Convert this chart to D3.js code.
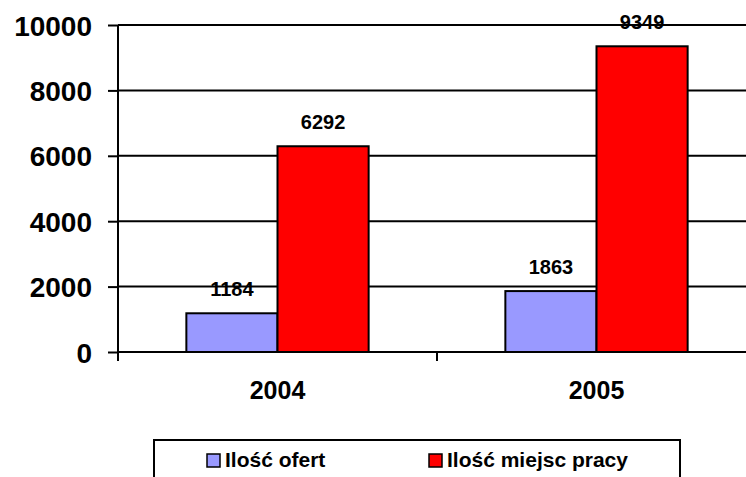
<!DOCTYPE html>
<html lang="pl">
<head>
<meta charset="utf-8">
<script src="https://d3js.org/d3.v7.min.js"></script>
<style>
  body { margin: 0; background: #fff; }
  text { font-family: Arial, "Liberation Sans", sans-serif; font-weight: bold; fill: #000; }
</style>
</head>
<body>
<div id="chart"></div>
<script>
// data
var years = ["2004", "2005"];
var seriesNames = ["Ilość ofert", "Ilość miejsc pracy"];
var seriesColors = ["#9999ff", "#ff0000"];
var ofert = [1184, 1863];
var miejsc = [6292, 9349];
var yTicks = [0, 2000, 4000, 6000, 8000, 10000];

var W = 746, H = 477;
var plot = {left: 118, top: 25, right: 756, bottom: 352};

var svg = d3.select("#chart").append("svg")
  .attr("width", W).attr("height", H);

var y = d3.scaleLinear().domain([0, 10000]).range([plot.bottom, plot.top]);

var x0 = d3.scaleBand().domain(years).range([plot.left, plot.right]);
var x1 = d3.scaleBand().domain(seriesNames)
  .range([0, x0.bandwidth()]).paddingOuter(0.75).paddingInner(0);

// gridlines
svg.append("g").selectAll("line")
  .data(yTicks.filter(function(d) { return d > 0; }))
  .enter().append("line")
    .attr("x1", plot.left).attr("x2", W)
    .attr("y1", function(d) { return y(d); })
    .attr("y2", function(d) { return y(d); })
    .attr("stroke", "#000").attr("stroke-width", 2);

// bars
var rows = years.map(function(yr, i) {
  return {year: yr, vals: [ofert[i], miejsc[i]]};
});

var groups = svg.selectAll(".grp").data(rows).enter().append("g")
  .attr("transform", function(d) { return "translate(" + x0(d.year) + ",0)"; });

groups.selectAll("rect")
  .data(function(d) { return d.vals.map(function(v, j) { return {name: seriesNames[j], v: v, j: j}; }); })
  .enter().append("rect")
    .attr("x", function(d) { return x1(d.name); })
    .attr("y", function(d) { return y(d.v); })
    .attr("width", x1.bandwidth())
    .attr("height", function(d) { return y(0) - y(d.v); })
    .attr("fill", function(d) { return seriesColors[d.j]; })
    .attr("stroke", "#000").attr("stroke-width", 2);

groups.selectAll(".lbl")
  .data(function(d) { return d.vals.map(function(v, j) { return {name: seriesNames[j], v: v}; }); })
  .enter().append("text")
    .attr("x", function(d) { return x1(d.name) + x1.bandwidth() / 2; })
    .attr("y", function(d) { return y(d.v) - 17; })
    .attr("text-anchor", "middle")
    .style("font-size", "20px")
    .text(function(d) { return d.v; });

// y axis
var yAxis = svg.append("g")
  .attr("transform", "translate(" + plot.left + ",0)")
  .call(d3.axisLeft(y).tickValues(yTicks).tickSize(10).tickPadding(16).tickFormat(d3.format("d")));
yAxis.select(".domain").remove();
yAxis.selectAll(".tick line").attr("stroke", "#000").attr("stroke-width", 2);
yAxis.selectAll("text").style("font-size", "28px").attr("dy", "0.36em");
svg.append("line")
  .attr("x1", plot.left).attr("x2", plot.left)
  .attr("y1", plot.top).attr("y2", plot.bottom + 9)
  .attr("stroke", "#000").attr("stroke-width", 2);

// x axis
svg.append("line")
  .attr("x1", plot.left).attr("x2", W)
  .attr("y1", plot.bottom).attr("y2", plot.bottom)
  .attr("stroke", "#000").attr("stroke-width", 2);
svg.append("g").selectAll("line")
  .data(years.slice(1))
  .enter().append("line")
    .attr("x1", function(d) { return x0(d); })
    .attr("x2", function(d) { return x0(d); })
    .attr("y1", plot.bottom).attr("y2", plot.bottom + 9)
    .attr("stroke", "#000").attr("stroke-width", 2);
svg.append("g").selectAll("text")
  .data(years).enter().append("text")
    .attr("x", function(d) { return x0(d) + x0.bandwidth() / 2; })
    .attr("y", 399)
    .attr("text-anchor", "middle")
    .style("font-size", "25px")
    .text(function(d) { return d; });

// legend
var leg = svg.append("g");
leg.append("rect")
  .attr("x", 154).attr("y", 440).attr("width", 526).attr("height", 60)
  .attr("fill", "#fff").attr("stroke", "#000").attr("stroke-width", 2);
var legX = [207, 429];
seriesNames.forEach(function(n, i) {
  leg.append("rect")
    .attr("x", legX[i]).attr("y", 454).attr("width", 13).attr("height", 13)
    .attr("fill", seriesColors[i]).attr("stroke", "#000").attr("stroke-width", 1.5);
  leg.append("text")
    .attr("x", legX[i] + 18).attr("y", 467)
    .style("font-size", "21px")
    .text(n);
});
</script>
</body>
</html>
